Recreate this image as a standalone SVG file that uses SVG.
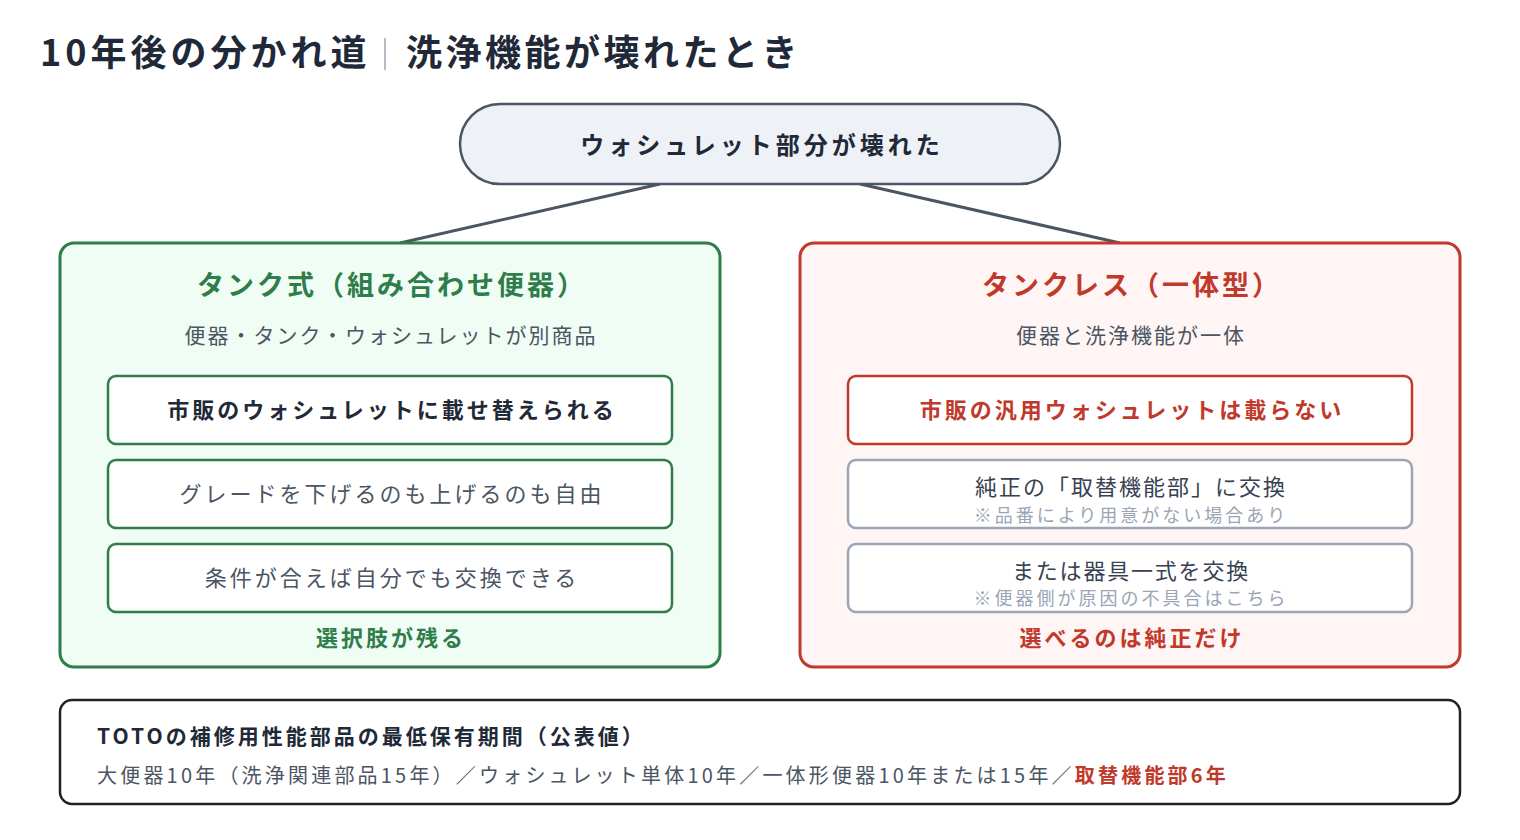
<svg xmlns="http://www.w3.org/2000/svg" width="1520" height="840" viewBox="0 0 1520 840">
<style>
text{font-family:"Noto Sans CJK JP","Noto Sans",sans-serif;}
.c{text-anchor:middle}
.b{font-weight:700}
.gbox{fill:#fff;stroke:#2e7d4a;stroke-width:2.5}
.rbox{fill:#fff;stroke:#9aa5b5;stroke-width:2.5}
.t{font-size:22px;fill:#4b5563;letter-spacing:3px}
.sub{font-size:18px;fill:#9aa5b5;letter-spacing:3px}
</style>
<rect width="1520" height="840" fill="#fff"/>
<text x="40" y="66" font-size="36" class="b" fill="#1f2937" letter-spacing="4">10年後の分かれ道</text>
<line x1="385" y1="38" x2="385" y2="70" stroke="#9aa5b5" stroke-width="1.5"/>
<text x="406" y="66" font-size="36" class="b" fill="#1f2937" letter-spacing="3.5">洗浄機能が壊れたとき</text>
<g id="connectors" stroke="#4b5563" stroke-width="3">
<line x1="660" y1="184" x2="400" y2="243"/>
<line x1="860" y1="184" x2="1120" y2="243"/>
</g>
<g id="root">
<rect x="460" y="104" width="600" height="80" rx="40" fill="#eef2f7" stroke="#4b5563" stroke-width="2.5"/>
<text x="762" y="154" class="c b" font-size="24" fill="#1f2937" letter-spacing="4">ウォシュレット部分が壊れた</text>
</g>
<g id="tank">
<rect x="60" y="243" width="660" height="424" rx="14" fill="#f0fdf4" stroke="#2e7d4a" stroke-width="3"/>
<text x="392" y="295" class="c b" font-size="27" fill="#2e7d4a" letter-spacing="3">タンク式（組み合わせ便器）</text>
<text x="391" y="343" class="c" font-size="21" fill="#4b5563" letter-spacing="2">便器・タンク・ウォシュレットが別商品</text>
<rect x="108" y="376" width="564" height="68" rx="8" class="gbox"/>
<text x="392" y="418" class="c b" font-size="22" fill="#1f2937" letter-spacing="3">市販のウォシュレットに載せ替えられる</text>
<rect x="108" y="460" width="564" height="68" rx="8" class="gbox"/>
<text x="392" y="502" class="c t">グレードを下げるのも上げるのも自由</text>
<rect x="108" y="544" width="564" height="68" rx="8" class="gbox"/>
<text x="392" y="586" class="c t">条件が合えば自分でも交換できる</text>
<text x="391" y="646" class="c b" font-size="22" fill="#2e7d4a" letter-spacing="3">選択肢が残る</text>
</g>
<g id="tankless">
<rect x="800" y="243" width="660" height="424" rx="14" fill="#fff5f5" stroke="#c0392b" stroke-width="3"/>
<text x="1132" y="295" class="c b" font-size="27" fill="#c0392b" letter-spacing="3">タンクレス（一体型）</text>
<text x="1131" y="343" class="c" font-size="21" fill="#4b5563" letter-spacing="2">便器と洗浄機能が一体</text>
<rect x="848" y="376" width="564" height="68" rx="8" fill="#fff" stroke="#c0392b" stroke-width="2.5"/>
<text x="1132" y="418" class="c b" font-size="22" fill="#c0392b" letter-spacing="3">市販の汎用ウォシュレットは載らない</text>
<rect x="848" y="460" width="564" height="68" rx="8" class="rbox"/>
<text x="1131" y="495" class="c" font-size="22" fill="#374151" letter-spacing="2">純正の「取替機能部」に交換</text>
<text x="1131" y="522" class="c sub">※品番により用意がない場合あり</text>
<rect x="848" y="544" width="564" height="68" rx="8" class="rbox"/>
<text x="1131" y="579" class="c" font-size="22" fill="#374151" letter-spacing="1.8">または器具一式を交換</text>
<text x="1131" y="605" class="c sub">※便器側が原因の不具合はこちら</text>
<text x="1132" y="646" class="c b" font-size="22" fill="#c0392b" letter-spacing="3">選べるのは純正だけ</text>
</g>
<g id="note">
<rect x="60" y="700" width="1400" height="104" rx="12" fill="#fff" stroke="#1f2328" stroke-width="2.5"/>
<text x="97" y="744" class="b" font-size="21" fill="#1f2937" letter-spacing="3">TOTOの補修用性能部品の最低保有期間（公表値）</text>
<text x="97" y="783" font-size="20" fill="#4b5563" letter-spacing="3.2">大便器10年（洗浄関連部品15年）／ウォシュレット単体10年／一体形便器10年または15年／<tspan class="b" fill="#c0392b">取替機能部6年</tspan></text>
</g>
</svg>
